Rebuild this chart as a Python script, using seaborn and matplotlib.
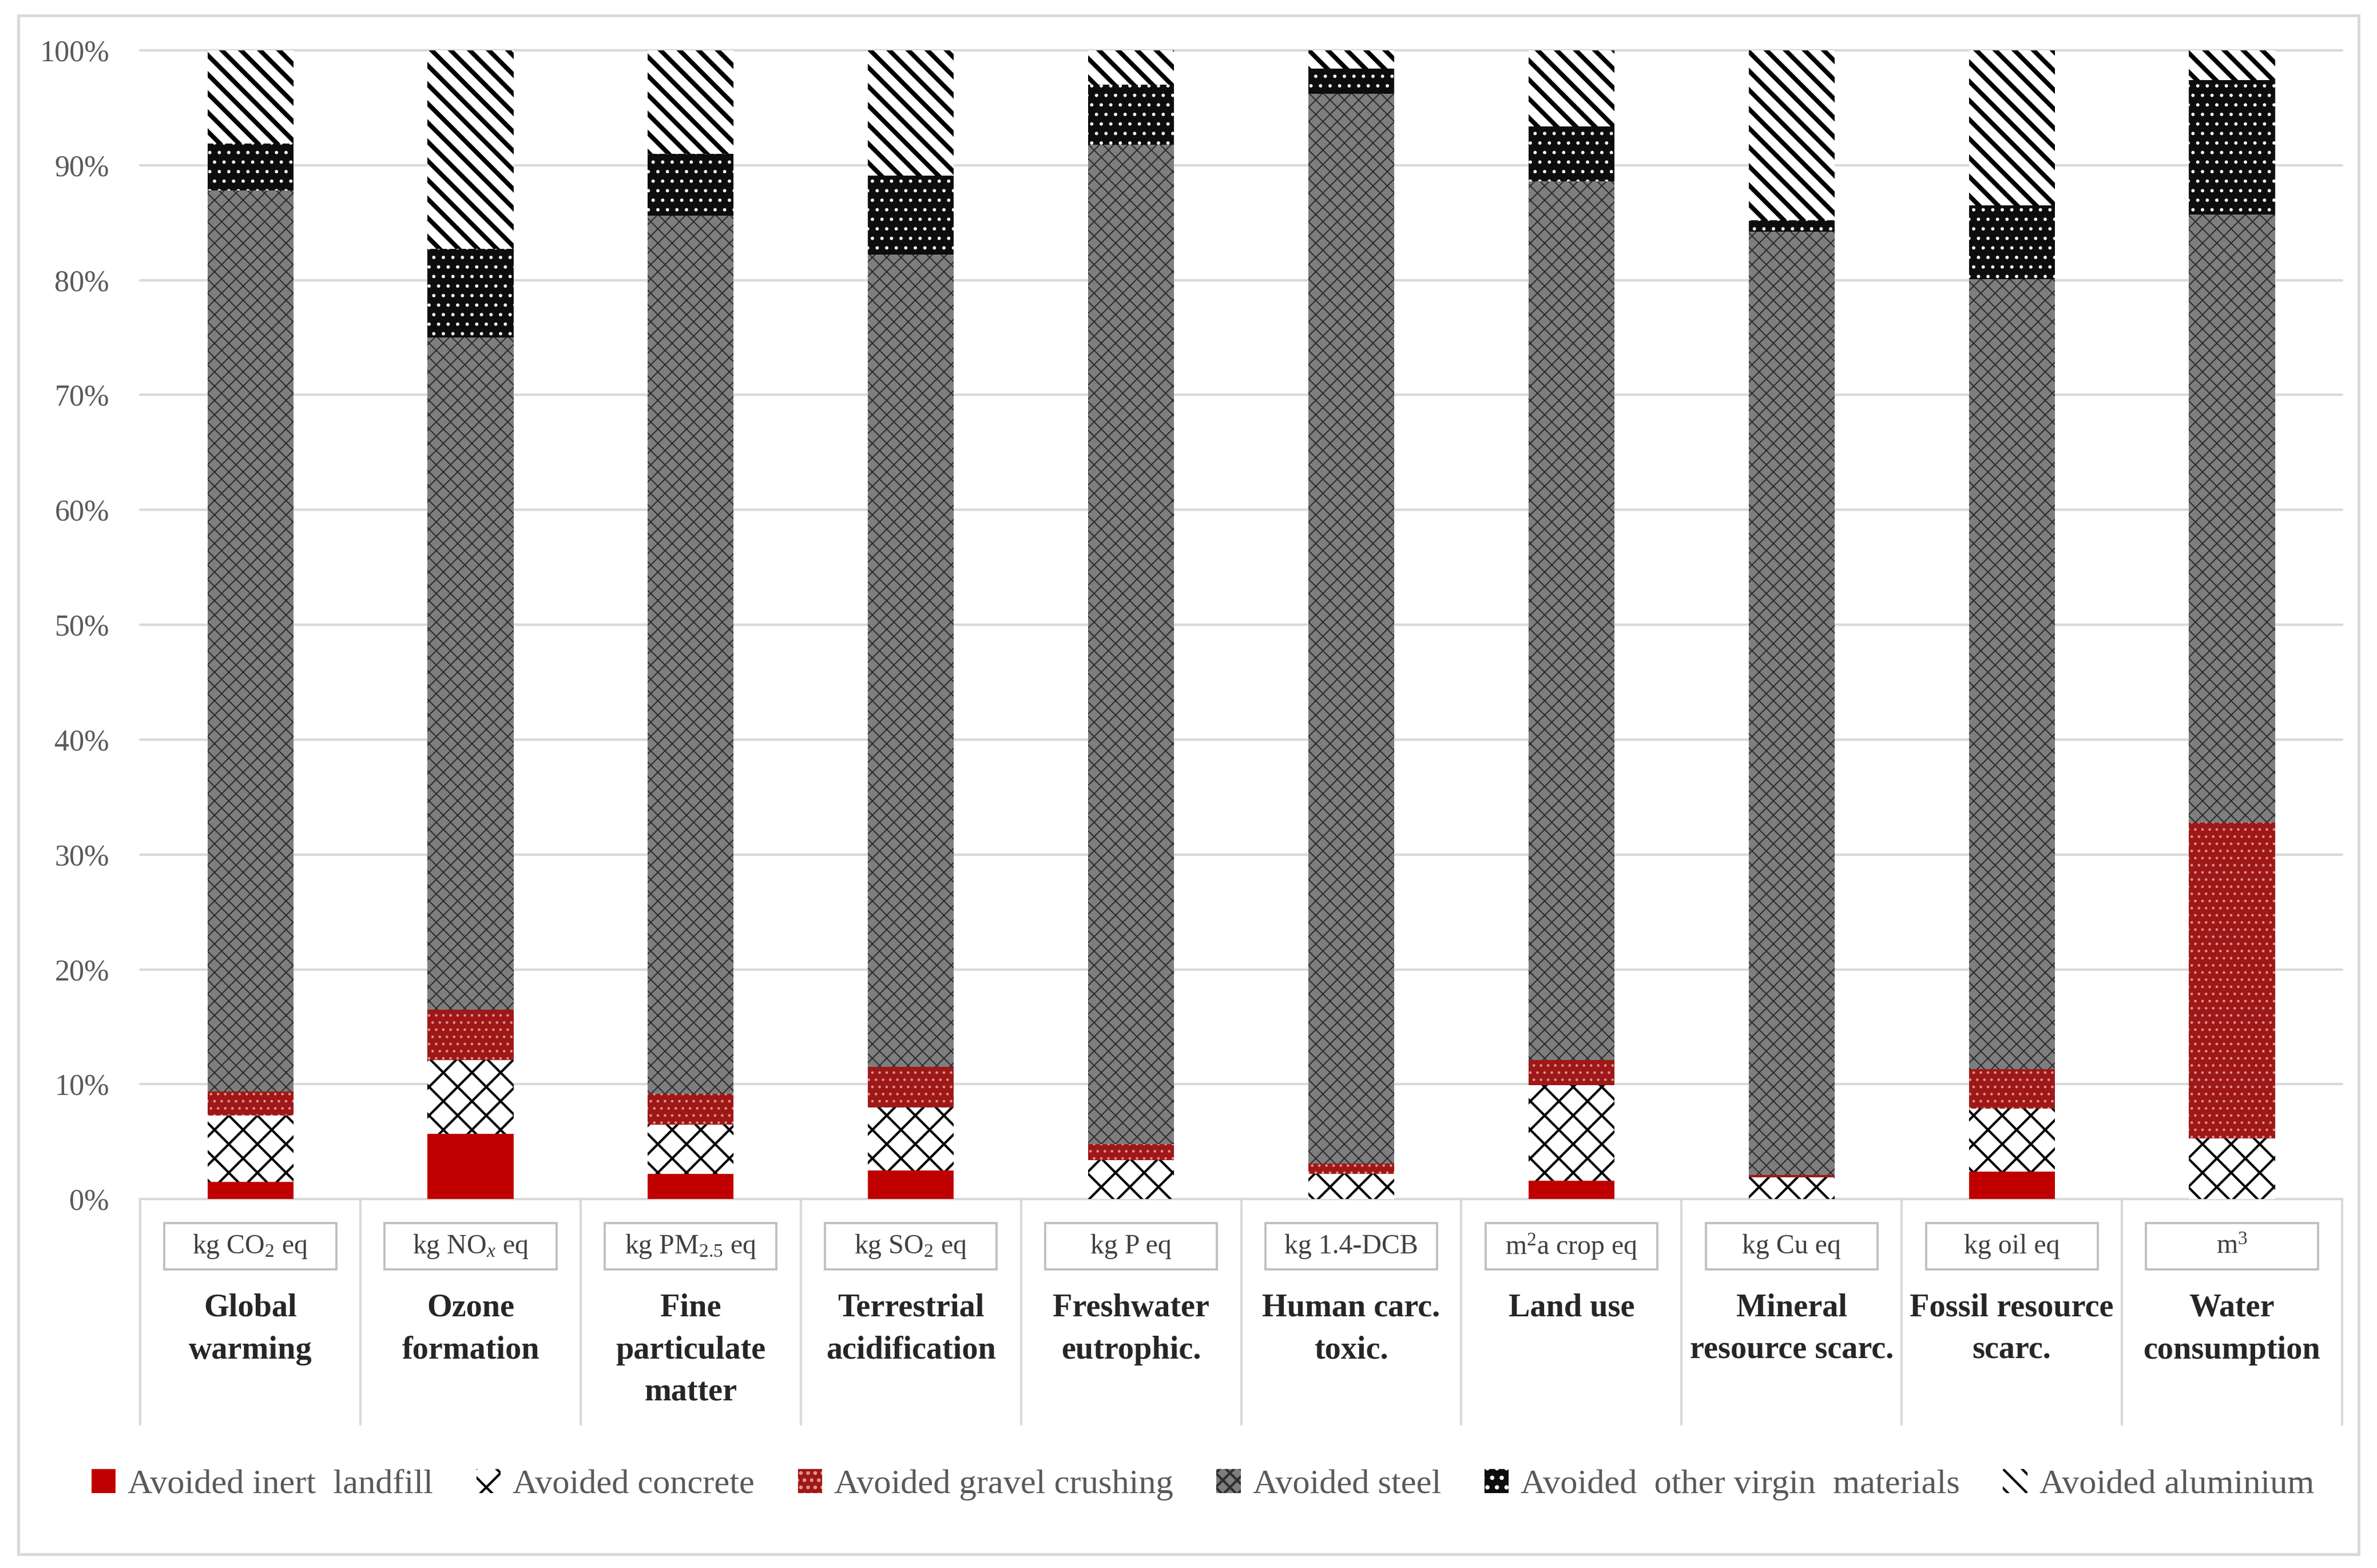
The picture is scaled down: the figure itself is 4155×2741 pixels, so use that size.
import matplotlib
matplotlib.use("Agg")
import matplotlib.pyplot as plt
import matplotlib.transforms as mtransforms
from matplotlib.patches import Rectangle, Patch
import seaborn as sns
import numpy as np
import pandas as pd

# ---------------- data ----------------
categories = ["Global\nwarming", "Ozone\nformation", "Fine\nparticulate\nmatter",
              "Terrestrial\nacidification", "Freshwater\neutrophic.", "Human carc.\ntoxic.",
              "Land use", "Mineral\nresource scarc.", "Fossil resource\nscarc.", "Water\nconsumption"]
units = [r"kg CO$_2$ eq", r"kg NO$_x$ eq", r"kg PM$_{2.5}$ eq", r"kg SO$_2$ eq", "kg P eq",
         "kg 1.4-DCB", r"m$^2$a crop eq", "kg Cu eq", "kg oil eq", r"m$^3$"]
series_names = ["Avoided inert  landfill", "Avoided concrete", "Avoided gravel crushing",
                "Avoided steel", "Avoided  other virgin  materials", "Avoided aluminium"]
landfill = [1.5, 5.7, 2.2, 2.5, 0.0, 0.0, 1.6, 0.0, 2.4, 0.0]
concrete = [5.8, 6.4, 4.3, 5.5, 3.4, 2.2, 8.3, 1.9, 5.5, 5.3]
gravel = [2.1, 4.4, 2.7, 3.5, 1.4, 0.9, 2.2, 0.2, 3.4, 27.5]
steel = [78.4, 58.5, 76.4, 70.7, 87.0, 93.1, 76.5, 82.1, 68.8, 52.9]
other = [4.1, 7.7, 5.4, 6.9, 5.2, 2.2, 4.8, 1.0, 6.4, 11.7]
aluminium = [8.1, 17.3, 9.0, 10.9, 3.0, 1.6, 6.6, 14.8, 13.5, 2.6]
yticks = list(range(0, 101, 10))

# ---------------- styles ----------------
styles = [
    dict(face="#C00000", hatch=None, hcol="#C00000", hlw=0.5),
    dict(face="#FFFFFF", hatch="xx", hcol="#000000", hlw=1.0),
    dict(face="#9E1818", hatch="....", hcol="#E38F8F", hlw=0.5),
    dict(face="#7E7E7E", hatch="xxxx", hcol="#2E2E2E", hlw=0.5),
    dict(face="#0D0D0D", hatch="...", hcol="#FFFFFF", hlw=0.6),
    dict(face="#FFFFFF", hatch="\\\\\\", hcol="#000000", hlw=1.9),
]

sns.set_theme(style="white")
plt.rcParams["font.family"] = ["Liberation Serif", "DejaVu Serif"]
plt.rcParams["mathtext.fontset"] = "custom"
plt.rcParams["mathtext.rm"] = "Liberation Serif"
plt.rcParams["mathtext.it"] = "Liberation Serif:italic"
plt.rcParams["mathtext.bf"] = "Liberation Serif:bold"

fig = plt.figure(figsize=(4155 / 300, 2741 / 300), dpi=300)
ax = fig.add_axes([0.059, 0.2352, 0.9263, 0.7327])

data = np.array([landfill, concrete, gravel, steel, other, aluminium], dtype=float)
data = data / data.sum(axis=0) * 100.0
cum = np.cumsum(data, axis=0)
keys = [f"c{i}" for i in range(len(categories))]

for k in range(len(series_names) - 1, -1, -1):
    st = styles[k]
    df = pd.DataFrame({"cat": keys, "val": cum[k]})
    n0 = len(ax.patches)
    with plt.rc_context({"hatch.linewidth": st["hlw"]}):
        sns.barplot(data=df, x="cat", y="val", order=keys, color=st["face"], saturation=1,
                    width=0.39, errorbar=None, ax=ax, zorder=3)
    for p in ax.patches[n0:]:
        p.set_facecolor(st["face"])
        p.set_edgecolor(st["hcol"])
        p.set_linewidth(0)
        if st["hatch"]:
            p.set_hatch(st["hatch"])
            if hasattr(p, "set_hatch_linewidth"):
                p.set_hatch_linewidth(st["hlw"])

ax.set_xlim(-0.5, len(categories) - 0.5)
ax.set_ylim(0, 100)
ax.set_yticks(yticks)
ax.set_yticklabels([f"{v}%" for v in yticks], fontsize=12.5, color="#595959")
ax.tick_params(axis="y", length=0, pad=13)
ax.tick_params(axis="x", length=0, labelbottom=False)
ax.set_xlabel("")
ax.set_ylabel("")
ax.set_axisbelow(True)
ax.yaxis.grid(True, color="#D9D9D9", linewidth=1.0)
for g in ax.get_ygridlines():
    g.set_clip_on(False)
for s in ax.spines.values():
    s.set_visible(False)

# ---------------- category table below axis ----------------
trans = mtransforms.blended_transform_factory(ax.transData, ax.transAxes)
for i in range(len(categories) + 1):
    ax.plot([i - 0.5, i - 0.5], [0, -0.196], transform=trans, color="#D9D9D9",
            linewidth=1.0, clip_on=False)
for i, (cat, unit) in enumerate(zip(categories, units)):
    ax.add_patch(Rectangle((i - 0.39, -0.061), 0.78, 0.04, transform=trans, facecolor="white",
                           edgecolor="#BFBFBF", linewidth=0.9, clip_on=False))
    ax.text(i, -0.041, unit, transform=trans, ha="center", va="center", fontsize=11.5,
            color="#404040")
    ax.text(i, -0.082, cat, transform=trans, ha="center", va="top", fontsize=13.5,
            fontweight="bold", color="#262626", linespacing=1.55)

# ---------------- legend ----------------
handles = []
for st in styles:
    with plt.rc_context({"hatch.linewidth": st["hlw"]}):
        h = Patch(facecolor=st["face"], edgecolor=st["hcol"], hatch=st["hatch"], linewidth=0)
    handles.append(h)
fig.legend(handles, series_names, loc="center", bbox_to_anchor=(0.506, 0.053), ncol=6,
           frameon=False, handlelength=0.7, handleheight=0.7, handletextpad=0.35,
           columnspacing=1.25, prop={"size": 14.5}, labelcolor="#595959")

# ---------------- outer border ----------------
fig.add_artist(Rectangle((0.0077, 0.0087), 0.9846, 0.9816, transform=fig.transFigure,
                         fill=False, edgecolor="#D9D9D9", linewidth=1.2))

fig.savefig("out.png", dpi=300, facecolor="white")
